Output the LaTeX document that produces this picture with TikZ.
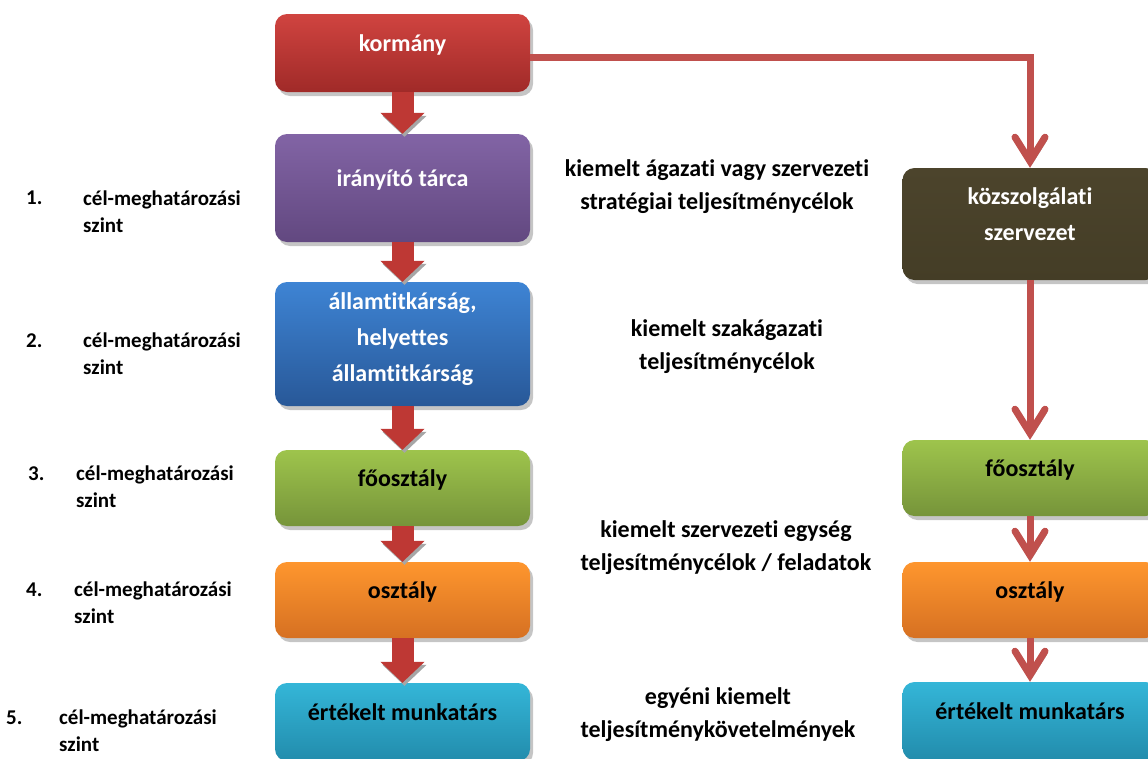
\documentclass[tikz,border=0pt]{standalone}
\usepackage{fontspec}
\setmainfont{Carlito}[Ligatures=NoCommon]
\usetikzlibrary{arrows.meta,shadows}
\definecolor{redtop}{RGB}{208,68,64}
\definecolor{redbot}{RGB}{160,42,40}
\definecolor{purpletop}{RGB}{130,100,165}
\definecolor{purplebot}{RGB}{98,72,128}
\definecolor{bluetop}{RGB}{62,132,212}
\definecolor{bluebot}{RGB}{40,88,152}
\definecolor{greentop}{RGB}{158,196,76}
\definecolor{greenbot}{RGB}{118,148,58}
\definecolor{orangetop}{RGB}{254,150,46}
\definecolor{orangebot}{RGB}{214,112,34}
\definecolor{cyantop}{RGB}{52,182,216}
\definecolor{cyanbot}{RGB}{34,140,172}
\definecolor{browntop}{RGB}{76,68,44}
\definecolor{brownbot}{RGB}{68,61,38}
\definecolor{blockred}{RGB}{190,56,52}
\definecolor{feedred}{RGB}{192,80,77}
\tikzset{
  level/.style={
    rectangle,
    rounded corners=12pt,
    minimum width=255pt,
    minimum height=78pt,
    inner sep=2pt,
    align=center,
    text depth=19pt,
    font=\fontsize{24}{36}\selectfont\bfseries,
    drop shadow={shadow xshift=3pt,shadow yshift=-4pt,fill=black!45}
  },
  lvl-red/.style={level,top color=redtop,bottom color=redbot,text=white},
  lvl-purple/.style={level,top color=purpletop,bottom color=purplebot,text=white},
  lvl-blue/.style={level,top color=bluetop,bottom color=bluebot,text=white},
  lvl-green/.style={level,top color=greentop,bottom color=greenbot,text=black},
  lvl-orange/.style={level,top color=orangetop,bottom color=orangebot,text=black},
  lvl-cyan/.style={level,top color=cyantop,bottom color=cyanbot,text=black},
  lvl-brown/.style={level,top color=browntop,bottom color=brownbot,text=white},
  goal/.style={align=center,inner sep=0pt,font=\fontsize{24}{33}\selectfont\bfseries},
  lvlnum/.style={anchor=west,inner sep=0pt,font=\fontsize{21}{27}\selectfont\bfseries},
  lvltext/.style={anchor=west,align=left,inner sep=0pt,font=\fontsize{21}{27}\selectfont\bfseries},
  block/.style={
    draw=blockred,
    line width=22pt,
    -{Triangle[width=43pt,length=21pt]},
    preaction={draw=black!35,transform canvas={xshift=2pt,yshift=-3pt}}
  },
  feed/.style={
    draw=feedred,
    line width=7pt,
    -{Straight Barb[length=24pt,width=30pt,line cap=round]},
    preaction={draw=black!35,transform canvas={xshift=2pt,yshift=-3pt}}
  }
}

\begin{document}
\begin{tikzpicture}[x=1pt,y=-1pt]
  \useasboundingbox (0,0) rectangle (1148,758);
  % left column
  \node[lvl-red] (korm) at (402.5,53) {kormány};
  \node[lvl-purple, minimum height=108pt] (irany) at (402.5,188) {irányító tárca};
  \node[lvl-blue, minimum height=124pt, text depth=14pt] (allam) at (402.5,344)
    {államtitkárság,\\helyettes\\államtitkárság};
  \node[lvl-green, minimum height=76pt] (fo1) at (402.5,488) {főosztály};
  \node[lvl-orange, minimum height=76pt] (oszt1) at (402.5,600) {osztály};
  \node[lvl-cyan] (ert1) at (402.5,722) {értékelt munkatárs};
  % right column
  \node[lvl-brown, minimum height=112pt] (kozsz) at (1030,224)
    {közszolgálati\\szervezet};
  \node[lvl-green, minimum height=76pt] (fo2) at (1030,478) {főosztály};
  \node[lvl-orange, minimum height=76pt] (oszt2) at (1030,600) {osztály};
  \node[lvl-cyan] (ert2) at (1030,721) {értékelt munkatárs};
  % goals
  \node[goal] (goal1) at (717,187)
    {kiemelt ágazati vagy szervezeti\\stratégiai teljesítménycélok};
  \node[goal] (goal2) at (727,347)
    {kiemelt szakágazati\\teljesítménycélok};
  \node[goal] (goal3) at (726,548)
    {kiemelt szervezeti egység\\teljesítménycélok / feladatok};
  \node[goal] (goal4) at (718,715)
    {egyéni kiemelt\\teljesítménykövetelmények};
  % levels
  \node[lvlnum] (num1) at (26,198) {1.};
  \node[lvltext] (lvl1) at (83,211.5) {cél-meghatározási\\szint};
  \node[lvlnum] (num2) at (26,341) {2.};
  \node[lvltext] (lvl2) at (83,354) {cél-meghatározási\\szint};
  \node[lvlnum] (num3) at (28,474) {3.};
  \node[lvltext] (lvl3) at (76,487) {cél-meghatározási\\szint};
  \node[lvlnum] (num4) at (26,590) {4.};
  \node[lvltext] (lvl4) at (74,603) {cél-meghatározási\\szint};
  \node[lvlnum] (num5) at (6,718) {5.};
  \node[lvltext] (lvl5) at (59,731) {cél-meghatározási\\szint};
  % arrows
  \draw[block] (korm.south) -- (irany.north);
  \draw[block] (irany.south) -- (allam.north);
  \draw[block] (allam.south) -- (fo1.north);
  \draw[block] (fo1.south) -- (oszt1.north);
  \draw[block] (oszt1.south) -- (ert1.north);
  \draw[feed] ([yshift=-4pt]korm.east) -| (kozsz.north);
  \draw[feed] (kozsz.south) -- (fo2.north);
  \draw[feed] (fo2.south) -- (oszt2.north);
  \draw[feed] (oszt2.south) -- (ert2.north);
\end{tikzpicture}
\end{document}
